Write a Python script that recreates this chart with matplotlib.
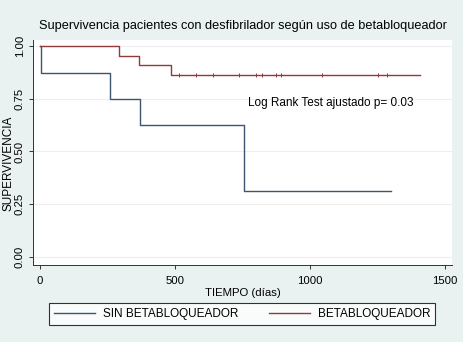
import numpy as np
import matplotlib.pyplot as plt
from matplotlib.patches import Rectangle

plt.rcParams['font.family'] = ['Liberation Sans', 'DejaVu Sans']

# Kaplan-Meier steps (tiempo en dias, supervivencia)
sin_t = [0, 5, 260, 370, 755, 1300]
sin_s = [1.0, 0.875, 0.75, 0.625, 0.3125, 0.3125]

beta_t = [0, 293, 367, 485, 1407]
beta_s = [1.0, 0.955, 0.909, 0.864, 0.864]

# censuras en el grupo betabloqueador
beta_cens = [515, 578, 641, 737, 800, 822, 874, 893, 1044, 1252, 1285]

y_ticks = [0.0, 0.25, 0.50, 0.75, 1.00]
y_labels = ["0.00", "0.25", "0.50", "0.75", "1.00"]
x_ticks = [0, 500, 1000, 1500]

fondo = "#e9f1f1"
c_sin = "#3d5570"
c_beta = "#8e3b3b"

fig = plt.figure(figsize=(4.64, 3.48), dpi=100, facecolor=fondo)
fig.patches.append(Rectangle((0, 0), 1, 6/348, transform=fig.transFigure,
                             facecolor="white", edgecolor="none", zorder=0))
ax = fig.add_axes([33/464, 1 - 265/348, (452 - 33)/464, (265 - 40)/348])
ax.set_facecolor("white")

ax.step(sin_t, sin_s, where="post", color=c_sin, lw=1.0, label="SIN BETABLOQUEADOR")
ax.step(beta_t, beta_s, where="post", color=c_beta, lw=1.0, label="BETABLOQUEADOR")
ax.plot(beta_cens, [beta_s[-1]] * len(beta_cens), ls="none", marker="|",
        ms=3, mew=0.7, color=c_beta)

ax.set_xlim(-26, 1526)
ax.set_ylim(-0.04, 1.03)
ax.set_xticks(x_ticks)
ax.set_yticks(y_ticks)
ax.set_yticklabels(y_labels, rotation=90, va="center")
ax.tick_params(labelsize=8.2, length=3, width=0.7, color="#333333")
ax.tick_params(axis="x", pad=5)
ax.tick_params(axis="y", pad=3)
ax.grid(axis="y", color="#eeeeee", lw=0.8)
ax.set_axisbelow(True)
for s in ["top", "right"]:
    ax.spines[s].set_visible(False)
for s in ["left", "bottom"]:
    ax.spines[s].set_color("#333333")
    ax.spines[s].set_linewidth(0.7)

ax.set_xlabel("TIEMPO (días)", fontsize=8.2, labelpad=1)
ax.set_ylabel("SUPERVIVENCIA", fontsize=8.5)
ax.yaxis.set_label_coords(-0.045, 0.45)
ax.set_title("Supervivencia pacientes con desfibrilador según uso de betabloqueador",
             fontsize=9.2, pad=8)
ax.text(770, 0.73, "Log Rank Test ajustado p= 0.03", fontsize=8.5, va="center")

leg = fig.legend(loc="center", bbox_to_anchor=(242/464, 1 - 314/348), ncol=2,
                 fontsize=8.5, frameon=True, fancybox=False, edgecolor="black",
                 handlelength=3.5, handletextpad=0.65, columnspacing=2.6,
                 borderpad=0.4, borderaxespad=0)
leg.get_frame().set_linewidth(0.8)

fig.savefig("out.png", dpi=100, facecolor=fondo)
